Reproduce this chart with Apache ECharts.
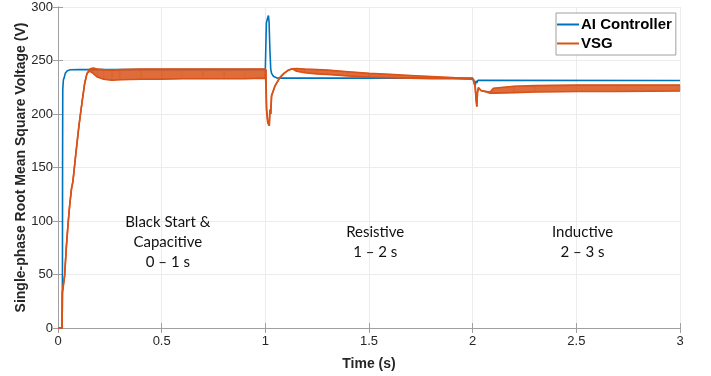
<!DOCTYPE html>
<html>
<head>
<meta charset="utf-8">
<script src="https://cdn.jsdelivr.net/npm/echarts@6/dist/echarts.min.js"></script>
<style>
  html, body { margin: 0; padding: 0; background: #fff; }
  #chart { width: 711px; height: 376px; }
</style>
</head>
<body>
<div id="chart"></div>
<script>
// AI controller RMS voltage
const aiTime = [0, 0.02, 0.021, 0.0215, 0.022, 0.023, 0.026, 0.03, 0.035, 0.045, 0.06, 0.1, 1.0,
  1.003, 1.005, 1.01, 1.015, 1.018, 1.022, 1.026, 1.03, 1.04, 1.06, 2.0,
  2.004, 2.008, 2.012, 2.016, 2.02, 2.025, 3.0];
const aiVolt = [0, 0, 33, 60, 150, 223, 232, 234, 238, 240.5, 241.3, 241.5, 241.5,
  241, 285, 289, 292, 286, 260, 242, 238, 235, 233.5, 233.5,
  232, 228, 226, 231, 229, 231.5, 231.3];

// VSG RMS voltage: upper / lower edge of the ripple band (equal where there is no ripple)
const vsgTime = [0, 0.02, 0.021, 0.032, 0.04, 0.048, 0.056, 0.065, 0.072, 0.085, 0.101, 0.118, 0.129, 0.14,
  0.153, 0.169, 0.19, 0.22, 0.26, 0.3, 0.4, 0.5, 0.6, 0.7, 0.8, 0.9, 1.0,
  1.003, 1.006, 1.012, 1.019, 1.022, 1.026, 1.03, 1.046, 1.07, 1.09, 1.111, 1.13,
  1.151, 1.191, 1.25, 1.3, 1.4, 1.5, 1.6, 1.7, 1.8, 1.9, 1.99,
  2.004, 2.012, 2.016, 2.02, 2.023, 2.028, 2.04, 2.052, 2.084,
  2.1, 2.2, 2.3, 2.5, 2.7, 3.0];
const vsgUpper = [0, 0, 33, 49, 75, 96, 114, 130, 137, 161, 189, 214, 229, 238,
  242, 243, 242, 241.5, 241, 241.5, 242, 242, 242, 242, 242, 242, 242,
  241.6, 204, 192, 189, 204, 200, 217, 226, 234, 238, 241, 242.3,
  242.5, 242, 241.5, 241, 239.5, 238, 237, 236, 235, 234, 233,
  232.3, 226, 215, 207, 220, 224.6, 222, 221.4, 220.5,
  224, 226, 226.5, 227, 227, 227];
const vsgLower = [0, 0, 33, 49, 75, 96, 114, 130, 137, 161, 189, 214, 229, 238,
  240, 238, 234.5, 232.5, 231.5, 232, 232.5, 232.5, 233, 233, 233, 233, 233.5,
  241.6, 204, 192, 189, 204, 200, 217, 226, 234, 238, 241, 242.3,
  240, 238.5, 237.5, 237, 235.5, 234.5, 234, 233.5, 233, 233, 232.5,
  232.3, 226, 215, 207, 220, 224.6, 222, 221.4, 219.5,
  219.5, 220, 220.5, 221, 221, 221.5];

const xTicks = [0, 0.5, 1, 1.5, 2, 2.5, 3];
const regionLabels = ['Black Start &\nCapacitive\n0 – 1 s', 'Resistive\n1 – 2 s', 'Inductive\n2 – 3 s'];
const regionCenters = [0.53, 1.53, 2.53];

const BLUE = '#0072BD';
const ORANGE = '#D95319';
const AXIS = '#a0a0a0';
const TICKTEXT = '#262626';
const FONT = 'Liberation Sans, Arial, sans-serif';

const chart = echarts.init(document.getElementById('chart'));

const aiData = aiTime.map((t, i) => [t, aiVolt[i]]);
const vsgLowerData = vsgTime.map((t, i) => [t, vsgLower[i]]);
const vsgUpperData = vsgTime.map((t, i) => [t, vsgUpper[i]]);
// one quad per pair of neighbouring samples, filled between the band edges
const vsgBandData = vsgTime.slice(0, -1).map((t, i) =>
  [t, vsgUpper[i], vsgLower[i], vsgTime[i + 1], vsgUpper[i + 1], vsgLower[i + 1]]);

const grid = { left: 58, top: 7, right: 31, bottom: 47 };
const plotW = 711 - grid.left - grid.right;

function renderBand(params, api) {
  const p1 = api.coord([api.value(0), api.value(1)]);
  const p2 = api.coord([api.value(3), api.value(4)]);
  const p3 = api.coord([api.value(3), api.value(5)]);
  const p4 = api.coord([api.value(0), api.value(2)]);
  return {
    type: 'polygon',
    shape: { points: [p1, p2, p3, p4] },
    style: { fill: ORANGE, opacity: 0.85, stroke: ORANGE, lineWidth: 0.5 }
  };
}

const option = {
  animation: false,
  grid: grid,
  legend: {
    data: [{ name: 'AI Controller' }, { name: 'VSG' }],
    orient: 'vertical',
    left: 556,
    top: 13,
    icon: 'rect',
    itemWidth: 22,
    itemHeight: 2,
    itemGap: 4,
    padding: [4, 4, 4, 1],
    borderColor: '#a0a0a0',
    borderWidth: 1,
    backgroundColor: '#fff',
    textStyle: {
      fontFamily: FONT,
      fontWeight: 'bold',
      fontSize: 15,
      color: '#000',
      padding: [0, 0, 0, -3]
    }
  },
  xAxis: [
    {
      type: 'value',
      min: 0,
      max: 3,
      interval: 0.5,
      name: 'Time (s)',
      nameLocation: 'middle',
      nameGap: 29,
      nameMoveOverlap: false,
      nameTextStyle: { fontFamily: FONT, fontWeight: 'bold', fontSize: 14, color: '#262626' },
      axisLine: { show: true, lineStyle: { color: AXIS, width: 1 } },
      axisTick: { show: true, inside: true, length: 5, lineStyle: { color: AXIS } },
      axisLabel: { color: TICKTEXT, fontFamily: FONT, fontSize: 13, margin: 7, formatter: v => String(v) },
      splitLine: { show: true, lineStyle: { color: '#ececec', width: 1 } }
    },
    {
      type: 'value',
      position: 'top',
      min: 0,
      max: 3,
      interval: 0.5,
      axisLine: { show: true, lineStyle: { color: AXIS, width: 1 } },
      axisTick: { show: true, inside: true, length: 5, lineStyle: { color: AXIS } },
      axisLabel: { show: false },
      splitLine: { show: false }
    }
  ],
  yAxis: [
    {
      type: 'value',
      min: 0,
      max: 300,
      interval: 50,
      name: 'Single-phase Root Mean Square Voltage (V)',
      nameLocation: 'middle',
      nameGap: 30,
      nameMoveOverlap: false,
      nameTextStyle: { fontFamily: FONT, fontWeight: 'bold', fontSize: 14, color: '#262626' },
      axisLine: { show: true, lineStyle: { color: AXIS, width: 1 } },
      axisTick: { show: true, inside: true, length: 5, lineStyle: { color: AXIS } },
      axisLabel: { color: TICKTEXT, fontFamily: FONT, fontSize: 13, margin: 5 },
      splitLine: { show: true, lineStyle: { color: '#ececec', width: 1 } }
    },
    {
      type: 'value',
      position: 'right',
      min: 0,
      max: 300,
      interval: 50,
      axisLine: { show: true, lineStyle: { color: AXIS, width: 1 } },
      axisTick: { show: true, inside: true, length: 5, lineStyle: { color: AXIS } },
      axisLabel: { show: false },
      splitLine: { show: false }
    }
  ],
  graphic: regionLabels.map((txt, i) => ({
    type: 'text',
    x: grid.left + regionCenters[i] / 3 * plotW,
    y: 242,
    z: 100,
    style: {
      text: txt,
      align: 'center',
      verticalAlign: 'middle',
      lineHeight: 20,
      font: '15px Lato, "Open Sans", sans-serif',
      fill: '#111'
    }
  })),
  series: [
    {
      name: 'AI Controller',
      type: 'line',
      data: aiData,
      showSymbol: false,
      symbol: 'none',
      lineStyle: { color: BLUE, width: 1.6 },
      itemStyle: { color: BLUE },
      z: 2
    },
    {
      name: 'VSG band',
      type: 'custom',
      renderItem: renderBand,
      data: vsgBandData,
      encode: { x: [0, 3], y: [1, 2, 4, 5] },
      silent: true,
      z: 3
    },
    {
      name: 'VSG',
      type: 'line',
      data: vsgLowerData,
      showSymbol: false,
      symbol: 'none',
      lineStyle: { color: ORANGE, width: 1.6 },
      itemStyle: { color: ORANGE },
      z: 3
    },
    {
      name: 'VSG upper',
      type: 'line',
      data: vsgUpperData,
      showSymbol: false,
      symbol: 'none',
      lineStyle: { color: ORANGE, width: 1.6 },
      itemStyle: { color: ORANGE },
      z: 3
    }
  ]
};

chart.setOption(option);
</script>
</body>
</html>
